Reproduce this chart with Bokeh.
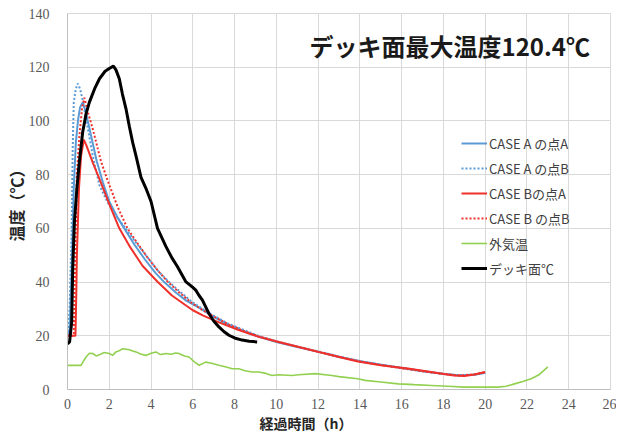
from bokeh.plotting import figure
from bokeh.models import FixedTicker, Legend, LegendItem, Label, Range1d, Title
from bokeh.embed import file_html
from bokeh.resources import INLINE

# ---------------- data ----------------
series_names = ["CASE A の点A", "CASE A の点B", "CASE Bの点A", "CASE B の点B", "外気温", "デッキ面℃"]

a_pa_x = [0, 0.1, 0.2, 0.3, 0.4, 0.5, 0.6, 0.73, 0.85, 1.0, 1.2, 1.4, 1.7, 2.0, 2.4, 2.72, 3.2, 3.7,
          4.2, 4.63, 5.2, 5.7, 6.3, 7.0, 7.7, 8.5, 9.2, 10.1, 11.0, 12.0, 13.0, 14.0, 15.0, 16.0,
          17.0, 18.0, 18.8, 19.5, 20.0]
a_pa_y = [20, 22, 45, 75, 92, 100, 105, 107, 104, 99, 92, 85, 77, 70, 64, 60, 54, 48.5,
          43.5, 40, 36, 33, 30.5, 27, 24, 21.5, 19.5, 17.5, 15.8, 14, 12.1, 10.5, 9.2, 8,
          6.8, 5.8, 5.2, 5.5, 6.2]

a_pb_x = [0, 0.1, 0.2, 0.25, 0.3, 0.4, 0.49, 0.6, 0.75, 0.89, 1.05, 1.21, 1.53, 1.9, 2.3, 2.87,
          3.3, 3.8, 4.3, 4.79, 5.3, 5.9, 6.46, 7.0, 7.7, 8.5, 9.2, 10.1, 11.0, 12.0, 13.0, 14.0,
          15.0, 16.0, 17.0, 18.0, 18.8, 19.5, 20.0]
a_pb_y = [20, 30, 60, 90, 107, 112, 113.9, 112, 107, 100.7, 94, 87, 76, 70, 65, 59,
          54.5, 49.5, 44.5, 40.5, 37, 33, 30, 27.5, 24.5, 22, 19.8, 17.7, 16, 14.2, 12.3, 10.6,
          9.3, 8.1, 6.9, 5.9, 5.3, 5.6, 6.3]

b_pa_x = [0, 0.2, 0.38, 0.42, 0.45, 0.55, 0.65, 0.78, 0.9, 1.21, 1.6, 2.0, 2.48, 3.0, 3.6, 4.3,
          5.0, 5.98, 6.5, 7.25, 8.2, 9.16, 10.1, 11.07, 12.0, 13.0, 13.9, 15.0, 16.3, 17.4, 18.5,
          19.0, 19.5, 20.0]
b_pa_y = [20, 20, 20, 35, 50, 75, 87, 93, 91, 84.5, 77, 69, 60, 53, 46, 40.2,
          35, 29.6, 27.5, 25, 22.1, 19.6, 17.7, 15.8, 14, 12.1, 10.4, 9, 7.8, 6.5, 5.2,
          5.0, 5.6, 6.5]

b_pb_x = [0, 0.3, 0.35, 0.45, 0.57, 0.7, 0.81, 0.95, 1.21, 1.6, 1.9, 2.4, 2.87, 3.3, 3.8, 4.3,
          4.79, 5.3, 5.9, 6.46, 7.0, 7.7, 8.5, 9.2, 10.1, 11.0, 12.0, 13.0, 14.0, 15.0, 16.0,
          17.0, 18.0, 18.8, 19.5, 20.0]
b_pb_y = [20, 20, 40, 80, 94.5, 105, 108.6, 104, 97, 85, 78.3, 68, 60, 55, 49.5, 44.5,
          40.2, 36.5, 32.5, 29.6, 27.2, 24.3, 21.6, 19.7, 17.8, 16, 14.1, 12.2, 10.5, 9.1, 7.9,
          6.8, 5.8, 5.2, 5.7, 6.4]

air_x = [0, 0.3, 0.65, 0.8, 0.89, 1.05, 1.21, 1.37, 1.53, 1.75, 2.0, 2.16, 2.32, 2.5, 2.64, 2.8,
         2.96, 3.12, 3.28, 3.5, 3.75, 4.0, 4.23, 4.45, 4.71, 4.95, 5.18, 5.34, 5.6, 5.82, 6.05,
         6.3, 6.62, 6.9, 7.25, 7.55, 7.89, 8.2, 8.5, 8.84, 9.16, 9.5, 9.79, 10.1, 10.75, 11.07,
         11.87, 12.66, 13.0, 13.9, 14.25, 15.0, 15.84, 16.6, 17.43, 18.2, 19.02, 19.8, 20.6,
         21.0, 21.4, 21.8, 22.2, 22.6, 23.0]
air_y = [9, 9, 9, 11, 12.1, 13.5, 13.4, 12.5, 12.9, 13.8, 13.4, 12.7, 14, 14.5, 15.2, 15,
         14.8, 14.3, 14, 13.2, 12.7, 13.5, 14, 13, 13.4, 13.1, 13.6, 13.4, 12.5, 12.1, 10.5,
         9, 10.2, 9.8, 9, 8.5, 7.7, 7.7, 7, 6.5, 6.5, 6, 5.2, 5.5, 5.2, 5.5,
         5.9, 5.2, 4.8, 4, 3.4, 2.8, 2.1, 1.8, 1.5, 1.2, 0.9, 0.9, 0.9,
         1.2, 2.1, 3, 4, 5.6, 8.4]

deck_x = [0, 0.1, 0.2, 0.25, 0.33, 0.45, 0.57, 0.73, 0.9, 1.05, 1.3, 1.53, 1.8, 2.0, 2.2, 2.32,
          2.48, 2.63, 2.8, 2.96, 3.12, 3.28, 3.52, 3.75, 4.0, 4.31, 4.71, 5.0, 5.26, 5.66, 6.0,
          6.14, 6.3, 6.46, 6.77, 7.0, 7.25, 7.5, 7.73, 8.0, 8.36, 8.7, 9.08]
deck_y = [17, 17.7, 25, 45, 62, 75, 85, 96, 103, 107, 112, 115.7, 118.5, 119.5, 120.4, 119,
          115.7, 110, 104.5, 98, 92, 87, 79, 75, 70, 60, 53.3, 49, 45.8, 40.2, 38,
          37, 35, 33.3, 28.3, 25.5, 23.3, 21.5, 20.2, 19.2, 18.4, 18.0, 17.7]

x_ticks = list(range(0, 27, 2))
y_ticks = list(range(0, 141, 20))
title_text = "デッキ面最大温度120.4℃"
x_label = "経過時間（h）"
y_label = "温度（℃）"

# ---------------- figure ----------------
p = figure(width=616, height=431, output_backend="svg", toolbar_location=None,
           x_range=Range1d(0, 26), y_range=Range1d(0, 140),
           min_border_left=65, min_border_right=6, min_border_top=13, min_border_bottom=30)
p.background_fill_color = "white"
p.border_fill_color = "white"
p.outline_line_color = "#D9D9D9"

grid_col = "#D9D9D9"
p.xgrid.grid_line_color = grid_col
p.ygrid.grid_line_color = grid_col
p.xaxis.ticker = FixedTicker(ticks=x_ticks)
p.yaxis.ticker = FixedTicker(ticks=y_ticks)

for ax in (p.xaxis[0], p.yaxis[0]):
    ax.axis_line_color = "#BFBFBF"
    ax.major_tick_line_color = None
    ax.minor_tick_line_color = None
    ax.major_label_text_font = "Liberation Serif"
    ax.major_label_text_font_size = "14px"
    ax.major_label_text_color = "#595959"

p.xaxis.major_label_standoff = 3
p.yaxis.major_label_standoff = 12

p.yaxis.axis_label = y_label
p.yaxis.axis_label_text_font = "Noto Sans CJK JP"
p.yaxis.axis_label_text_font_style = "bold"
p.yaxis.axis_label_text_font_size = "16px"
p.yaxis.axis_label_text_color = "#262626"
p.yaxis.axis_label_standoff = -2

blue = "#5B9BD5"
red = "#F0302A"
green = "#92D050"

r1 = p.line(a_pa_x, a_pa_y, line_color=blue, line_width=2)
r2 = p.line(a_pb_x, a_pb_y, line_color=blue, line_width=2, line_dash="2 2")
r3 = p.line(b_pa_x, b_pa_y, line_color=red, line_width=2)
r4 = p.line(b_pb_x, b_pb_y, line_color=red, line_width=2, line_dash="2 2")
r5 = p.line(air_x, air_y, line_color=green, line_width=1.6)
r6 = p.line(deck_x, deck_y, line_color="black", line_width=3)

legend = Legend(items=[LegendItem(label=n, renderers=[r]) for n, r in
                       zip(series_names, [r1, r2, r3, r4, r5, r6])],
                location=(394, 111), orientation="vertical")
legend.background_fill_alpha = 0
legend.border_line_color = None
legend.padding = 0
legend.margin = 0
legend.spacing = 5
legend.glyph_width = 26
legend.glyph_height = 20
legend.label_height = 20
legend.label_standoff = 2
legend.label_text_font = "Noto Sans CJK JP"
legend.label_text_font_size = "13px"
legend.label_text_color = "#404040"
p.add_layout(legend)

title = Label(x=18.3, y=128, text=title_text, text_align="center", text_baseline="middle",
              text_font="Noto Sans CJK JP", text_font_style="bold", text_font_size="24px",
              text_color="#1a1a1a")
p.add_layout(title)

xl = Title(text=x_label, align="left", offset=192, standoff=-2,
           text_font="Noto Sans CJK JP", text_font_style="bold", text_font_size="14px",
           text_color="#262626")
p.add_layout(xl, "below")

open("out.html", "w").write(file_html(p, INLINE))
